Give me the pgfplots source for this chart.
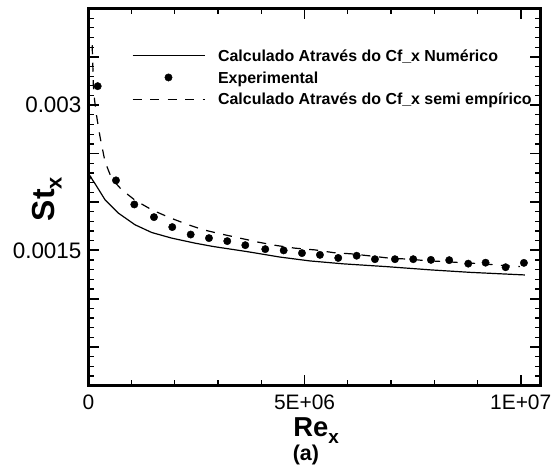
\documentclass[border=0pt]{standalone}
\usepackage{pgfplots}
\pgfplotsset{compat=1.18}
\usepackage{fontspec}
\setmainfont{Liberation Sans}

% Legend samples: a 72bp line, or one mark in its middle
\pgfplotsset{
  long line legend/.style={legend image code/.code={\draw[##1] (0bp,0bp) -- (72bp,0bp);}},
  mark legend/.style={legend image code/.code={\draw[##1] plot coordinates {(36bp,0bp)};}},
}

% Stanton number along the plate: St_x against Re_x
\pgfplotstableread{
Re        St
20000     0.002225
50000     0.002262
106000    0.002220
153000    0.002189
384000    0.002023
691000    0.001885
1078000   0.001764
1464000   0.001684
1926000   0.001626
2465000   0.001574
2889000   0.001539
3661000   0.001487
4431000   0.001430
5125000   0.001390
5895000   0.001360
6899000   0.001331
7900000   0.001298
8825000   0.001272
10097000  0.001245
}\numerico

\pgfplotstableread{
Re        St
215000    0.003197
638000    0.002223
1062000   0.001974
1517000   0.001843
1940000   0.001740
2366000   0.001663
2789000   0.001626
3212000   0.001595
3629000   0.001553
4091000   0.001512
4517000   0.001499
4940000   0.001471
5356000   0.001453
5779000   0.001421
6205000   0.001444
6628000   0.001408
7091000   0.001408
7514000   0.001408
7923000   0.001401
8346000   0.001398
8786000   0.001362
9188000   0.001372
9651000   0.001325
10074000  0.001370
}\experimental

\pgfplotstableread{
Re        St
88000     0.003620
90000     0.003578
102000    0.003422
113000    0.003215
141000    0.003059
192000    0.002883
268000    0.002676
384000    0.002417
539000    0.002240
770000    0.002126
1078000   0.002018
1464000   0.001919
1887000   0.001836
2310000   0.001764
2657000   0.001712
3083000   0.001667
3506000   0.001626
3929000   0.001584
4355000   0.001549
4778000   0.001522
5240000   0.001504
5664000   0.001476
6089000   0.001463
6513000   0.001442
6975000   0.001418
7437000   0.001408
7824000   0.001392
8247000   0.001383
8710000   0.001370
9096000   0.001361
9558000   0.001344
9981000   0.001331
}\semiempirico

\begin{document}
\begin{tikzpicture}
\begin{axis}[
  name=ax,
  scale only axis,
  width=452.2bp, height=377.2bp,
  xmin=0, xmax=1.046e7,
  ymin=0.0001, ymax=0.004,
  axis line style={line width=2.6bp, line join=miter},
  tick align=inside,
  xtick pos=both, ytick pos=both,
  xticklabel pos=lower, yticklabel pos=left,
  xtick={0,5e6,1e7},
  xticklabels={0,5E+06,1E+07},
  minor x tick num=4,
  ytick={0,0.0005,0.001,0.0015,0.002,0.0025,0.003,0.0035,0.004},
  yticklabels={,,,0.0015,,,0.003,,},
  minor y tick num=4,
  major tick length=10.5bp, minor tick length=6bp,
  major tick style={line width=1.8bp, black},
  minor tick style={line width=1.2bp, black},
  scaled x ticks=false, scaled y ticks=false,
  xticklabel style={font=\fontsize{21}{21}\selectfont, inner sep=0pt, anchor=north, yshift=-9.3bp},
  yticklabel style={font=\fontsize{22.5}{22.5}\selectfont, inner sep=0pt, anchor=east, xshift=-6.8bp},
  xlabel={\fontsize{27.5}{27.5}\selectfont\bfseries Re\raisebox{-7.5bp}{\fontsize{19}{19}\selectfont x}},
  xlabel style={at={(axis description cs:0.5038,-0.1334)}, anchor=base, inner sep=0pt},
  ylabel={\fontsize{32}{32}\selectfont\bfseries St\raisebox{-6.7bp}{\fontsize{22}{22}\selectfont x}},
  ylabel style={at={(axis description cs:-0.0741,0.495)}, anchor=base, inner sep=0pt},
  legend cell align=left,
  legend style={
    at={(axis description cs:0,1)}, anchor=north west,
    xshift=43.5bp, yshift=-39bp,
    draw=none, fill=none, inner sep=0pt, outer sep=0pt,
    row sep=5.2bp,
    font=\fontsize{16}{16}\selectfont\bfseries,
    nodes={inner sep=0pt, text height=14bp, text depth=2.5bp},
    /tikz/every odd column/.append style={column sep=13bp},
  },
]
\addplot[black, line width=1.2bp, long line legend]
  table[x=Re, y=St] {\numerico};
\addlegendentry{Calculado Através do Cf\_x Numérico}

\addplot[black, only marks, mark=*, mark size=3.7bp, mark legend]
  table[x=Re, y=St] {\experimental};
\addlegendentry{Experimental}

\addplot[black, line width=1.2bp, dash pattern=on 9bp off 8.5bp, long line legend]
  table[x=Re, y=St] {\semiempirico};
\addlegendentry{Calculado Através do Cf\_x semi empírico}
\end{axis}
\path (ax.south) ++(-8.6bp,-74.3bp)
  node[anchor=base, inner sep=0pt, font=\fontsize{21.5}{21.5}\selectfont\bfseries] {(a)};
\pgfresetboundingbox
\path[use as bounding box] (ax.south west) ++(-88.4bp,-86.3bp) rectangle ++(556bp,472bp);
\end{tikzpicture}
\end{document}
